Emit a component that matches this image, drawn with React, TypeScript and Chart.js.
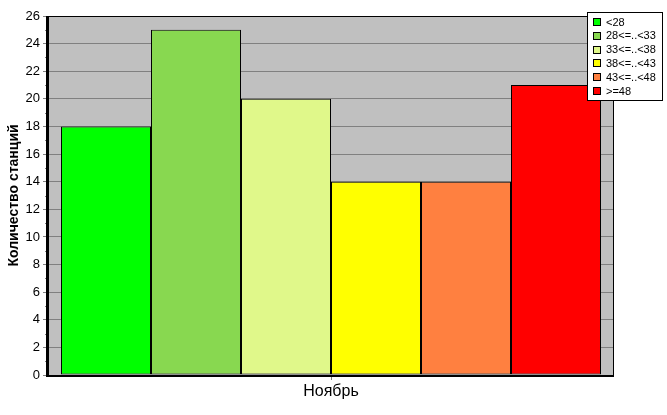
import React, { useEffect, useRef } from "react";
import { Chart, registerables } from "chart.js";

Chart.register(...registerables);

const categories = ["Ноябрь"];
const seriesLabels = ["<28", "28<=..<33", "33<=..<38", "38<=..<43", "43<=..<48", ">=48"];
const seriesValues = [18, 25, 20, 14, 14, 21];
const seriesColors = ["#00FF00", "#88D850", "#E0F88A", "#FFFF00", "#FF8040", "#FF0000"];
const yTitle = "Количество станций";

const FONT = "'Liberation Sans', Arial, sans-serif";

const plotFrame = {
  id: "plotFrame",
  beforeDraw(chart: any) {
    const { ctx, chartArea: a } = chart;
    ctx.save();
    ctx.fillStyle = "#C0C0C0";
    ctx.fillRect(a.left, a.top, a.right - a.left, a.bottom - a.top);
    ctx.restore();
  },
  afterDatasetsDraw(chart: any) {
    const { ctx, chartArea: a } = chart;
    const ys = chart.scales.y;
    ctx.save();
    // minor ticks
    ctx.strokeStyle = "#808080";
    ctx.lineWidth = 1;
    ctx.setLineDash([1, 1]);
    for (let v = ys.min + 1; v < ys.max; v += 2) {
      const py = Math.round(ys.getPixelForValue(v)) + 0.5;
      ctx.beginPath();
      ctx.moveTo(a.left - 3, py);
      ctx.lineTo(a.left, py);
      ctx.stroke();
    }
    ctx.setLineDash([]);
    ctx.strokeStyle = "#000";
    ctx.lineWidth = 1;
    ctx.strokeRect(a.left + 0.5, a.top + 0.5, a.right - a.left - 1, a.bottom - a.top);
    ctx.lineWidth = 2;
    ctx.beginPath();
    ctx.moveTo(a.left - 1, a.top);
    ctx.lineTo(a.left - 1, a.bottom + 1);
    ctx.lineTo(a.right, a.bottom + 1);
    ctx.stroke();
    ctx.restore();
  },
  afterDraw(chart: any) {
    const { ctx } = chart;
    const x0 = 587, y0 = 12, w = 76, h = 89;
    ctx.save();
    ctx.fillStyle = "#fff";
    ctx.fillRect(x0, y0, w, h);
    ctx.strokeStyle = "#000";
    ctx.lineWidth = 1;
    ctx.strokeRect(x0 + 0.5, y0 + 0.5, w - 1, h - 1);
    ctx.font = "11px " + FONT;
    ctx.textBaseline = "middle";
    chart.data.datasets.forEach((ds: any, i: number) => {
      const cy = y0 + 10 + i * 13.8;
      ctx.fillStyle = ds.backgroundColor;
      ctx.fillRect(x0 + 6.5, Math.round(cy) - 3.5, 7, 7);
      ctx.strokeStyle = "#000";
      ctx.strokeRect(x0 + 6.5, Math.round(cy) - 3.5, 7, 7);
      ctx.fillStyle = "#000";
      ctx.fillText(ds.label, x0 + 19, cy + 0.5);
    });
    ctx.restore();
  },
};

export default function App() {
  const ref = useRef<HTMLCanvasElement>(null);
  useEffect(() => {
    document.body.style.margin = "0";
    const chart = new Chart(ref.current as HTMLCanvasElement, {
      type: "bar",
      data: {
        labels: categories,
        datasets: seriesLabels.map((label, i) => ({
          label,
          data: [seriesValues[i]],
          backgroundColor: seriesColors[i],
          borderColor: "#000",
          borderWidth: 1,
          borderSkipped: false,
          inflateAmount: 0,
        })),
      },
      options: {
        responsive: false,
        animation: false,
        layout: { padding: { left: 0, right: 53, top: 16, bottom: 0 } },
        datasets: { bar: { barPercentage: 1, categoryPercentage: 540 / 566 } },
        plugins: { legend: { display: false }, tooltip: { enabled: false } },
        scales: {
          x: {
            afterFit(scale: any) { scale.height = 40; },
            grid: { display: true, drawOnChartArea: false, drawTicks: true, tickLength: 5, offset: false, color: "#808080" },
            border: { display: false },
            ticks: { color: "#000", font: { family: FONT, size: 16 }, padding: 2 },
          },
          y: {
            min: 0,
            max: 26,
            afterFit(scale: any) { scale.width = 48; },
            ticks: { stepSize: 2, color: "#000", font: { family: FONT, size: 13 }, padding: 3 },
            grid: { color: "#808080", tickLength: 5 },
            border: { display: false },
            title: { display: true, text: yTitle, color: "#000", font: { family: FONT, size: 14, weight: "bold" }, padding: { top: 6, bottom: 0 } },
          },
        },
      },
      plugins: [plotFrame],
    });
    return () => chart.destroy();
  }, []);
  return (
    <div style={{ width: 667, height: 415 }}>
      <canvas ref={ref} width={667} height={415} style={{ display: "block" }} />
    </div>
  );
}
